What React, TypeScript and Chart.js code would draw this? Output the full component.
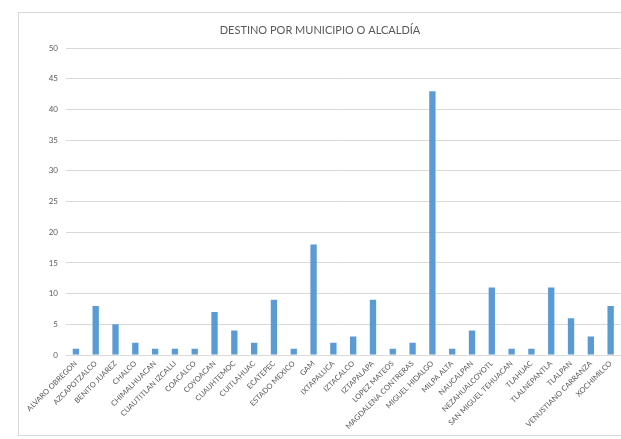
import React, { useEffect, useRef } from "react";
import { Chart, registerables } from "chart.js";

Chart.register(...registerables);

const titleText = "DESTINO POR MUNICIPIO O ALCALDÍA";

const categories = [
  "ALVARO OBREGON",
  "AZCAPOTZALCO",
  "BENITO JUAREZ",
  "CHALCO",
  "CHIMALHUACAN",
  "CUAUTITLAN IZCALLI",
  "COACALCO",
  "COYOACAN",
  "CUAUHTEMOC",
  "CUITLAHUAC",
  "ECATEPEC",
  "ESTADO MEXICO",
  "GAM",
  "IXTAPALUCA",
  "IZTACALCO",
  "IZTAPALAPA",
  "LOPEZ MATEOS",
  "MAGDALENA CONTRERAS",
  "MIGUEL HIDALGO",
  "MILPA ALTA",
  "NAUCALPAN",
  "NEZAHUALCOYOTL",
  "SAN MIGUEL TEHUACAN",
  "TLAHUAC",
  "TLALNEPANTLA",
  "TLALPAN",
  "VENUSTIANO CARRANZA",
  "XOCHIMILCO",
];

const values = [1, 8, 5, 2, 1, 1, 1, 7, 4, 2, 9, 1, 18, 2, 3, 9, 1, 2, 43, 1, 4, 11, 1, 1, 11, 6, 3, 8];

const yMin = 0;
const yMax = 50;
const yStep = 5;

export default function App() {
  const ref = useRef<HTMLCanvasElement | null>(null);

  useEffect(() => {
    if (!ref.current) return;
    const chart = new Chart(ref.current, {
      type: "bar",
      data: {
        labels: categories,
        datasets: [
          {
            data: values,
            backgroundColor: "#5B9BD5",
            borderWidth: 0,
            barPercentage: 0.32,
            categoryPercentage: 1,
          },
        ],
      },
      options: {
        animation: false,
        responsive: false,
        maintainAspectRatio: false,
        layout: { padding: { left: 0, right: 0, top: 0, bottom: 0 } },
        plugins: {
          legend: { display: false },
          tooltip: { enabled: false },
          title: {
            display: true,
            text: titleText,
            color: "#595959",
            font: { family: "Lato", size: 11, weight: "normal" },
            padding: { top: 11, bottom: 11 },
          },
        },
        scales: {
          x: {
            offset: true,
            grid: { display: false, drawTicks: false },
            border: { display: true, color: "#d9d9d9", width: 1 },
            ticks: {
              autoSkip: false,
              minRotation: 45,
              maxRotation: 45,
              padding: 4,
              color: "#595959",
              font: { family: "Lato", size: 7.5 },
            },
            afterFit: (scale: any) => {
              scale.height = 79;
            },
          },
          y: {
            min: yMin,
            max: yMax,
            ticks: {
              stepSize: yStep,
              padding: 8,
              color: "#595959",
              font: { family: "Lato", size: 8 },
            },
            grid: { color: "#d9d9d9", drawTicks: false },
            border: { display: false },
            afterFit: (scale: any) => {
              scale.width = 47;
            },
          },
        },
      },
    });
    return () => chart.destroy();
  }, []);

  return (
    <div
      style={{
        position: "fixed",
        left: 18,
        top: 12,
        width: 603,
        height: 422,
        borderLeft: "1px solid #d9d9d9",
        borderTop: "1px solid #d9d9d9",
        borderBottom: "1px solid #d9d9d9",
        background: "#fff",
      }}
    >
      <canvas ref={ref} width={602} height={421} style={{ display: "block" }} />
    </div>
  );
}
